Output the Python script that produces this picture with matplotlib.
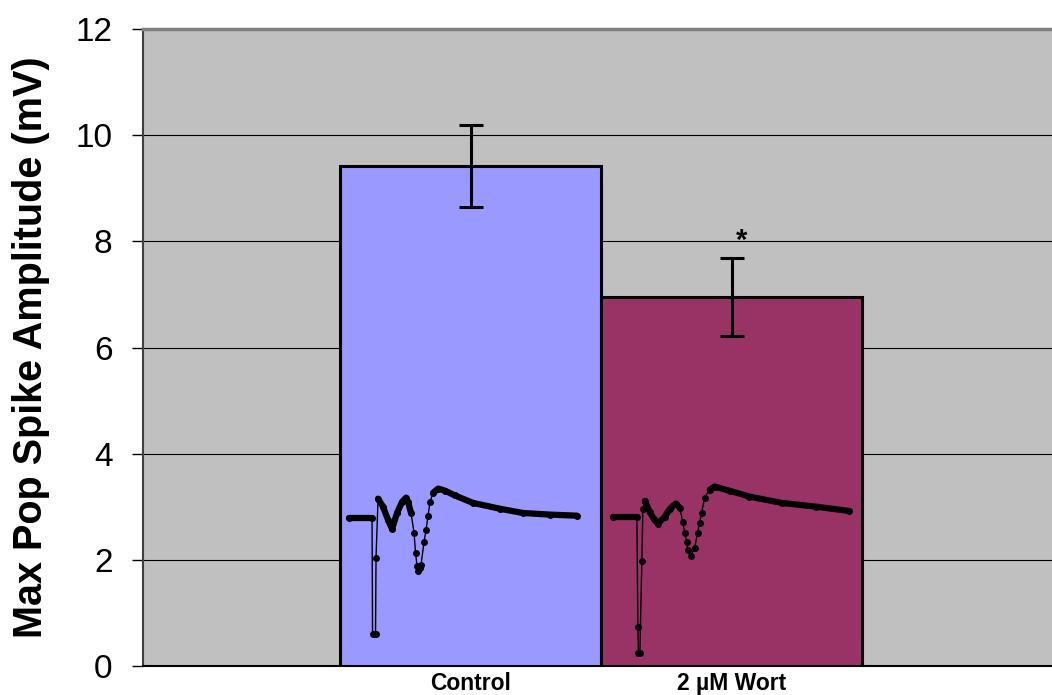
import matplotlib
matplotlib.use('Agg')
import matplotlib.pyplot as plt
import numpy as np

plt.rcParams['font.family'] = ['Liberation Sans', 'DejaVu Sans']

# bar data
groups = ['Control', '2 µM Wort']
means = [9.42, 6.95]
errors = [0.78, 0.73]
colors = ['#9999FF', '#993366']

# example field potential traces (sample index, relative mV)
ctrl_t = [0, 23, 23.5, 26.5, 27, 29, 34, 39, 43, 48, 53, 57, 59, 62, 65, 66.5,
          68, 69, 70.5, 72, 75, 77, 79, 81, 84, 89, 96, 106, 124, 151, 174, 201, 228]
ctrl_v = [0, 0, -2.19, -2.19, -0.75, 0.36, 0.21, -0.04, -0.21, 0.09, 0.30, 0.38,
          0.30, 0.09, -0.28, -0.66, -0.91, -1.0, -0.94, -0.89, -0.45, -0.23, 0.04,
          0.30, 0.47, 0.55, 0.51, 0.42, 0.28, 0.17, 0.09, 0.06, 0.04]
wort_t = [0, 24, 25, 25.5, 27, 29, 30, 32, 37, 41, 45, 52, 57, 63, 67, 70, 72, 74,
          75, 78, 82, 85, 87, 89, 92, 97, 102, 117, 137, 170, 204, 237]
wort_v = [0, 0, -2.08, -2.57, -2.57, -0.83, 0.15, 0.30, 0.09, -0.04, -0.13, 0.0,
          0.15, 0.25, 0.17, -0.09, -0.30, -0.47, -0.62, -0.74, -0.58, -0.30, -0.11,
          0.08, 0.36, 0.51, 0.57, 0.49, 0.38, 0.26, 0.19, 0.11]

fig = plt.figure(figsize=(10.52, 6.95), dpi=100)
ax = fig.add_axes([143 / 1052, 29 / 695, 1 - 143 / 1052, 637 / 695])
ax.set_facecolor('#C0C0C0')

x = np.arange(len(groups))
ax.bar(x, means, width=1.0, color=colors, edgecolor='black', linewidth=2.2, zorder=3)
ax.errorbar(x, means, yerr=errors, fmt='none', ecolor='black', elinewidth=2.2,
            capsize=8.3, capthick=2.2, zorder=4)
ax.text(x[1] + 0.04, means[1] + errors[1] + 0.33, '*', ha='center', va='center',
        fontsize=21, fontweight='bold', zorder=5)

ax.set_xlim(-1.255, 2.228)
ax.set_ylim(0, 12)
ax.set_yticks(range(0, 13, 2))
ax.tick_params(axis='y', labelsize=24, length=8, width=1, direction='out', pad=14)
ax.set_xticks(x)
ax.set_xticklabels(groups, fontsize=16.5, fontweight='bold')
ax.tick_params(axis='x', length=0, pad=4)
ax.set_ylabel('Max Pop Spike Amplitude (mV)', fontsize=28.5, fontweight='bold',
              labelpad=18)

ax.yaxis.grid(True, color='black', linewidth=0.8, zorder=0)
ax.set_axisbelow(True)
ax.spines['top'].set_color('#808080')
ax.spines['top'].set_linewidth(2.5)
ax.spines['right'].set_visible(False)
ax.spines['left'].set_color('#404040')
ax.spines['left'].set_linewidth(1.5)
ax.spines['bottom'].set_linewidth(1.5)


def draw_trace(xc, t, v, xlim, ylim, thick):
    ins = ax.inset_axes([xc - 0.5, 0, 1.0, 4.0], transform=ax.transData, zorder=6)
    ins.set_xlim(*xlim)
    ins.set_ylim(*ylim)
    ins.axis('off')
    ins.patch.set_alpha(0)
    t = np.asarray(t)
    v = np.asarray(v)
    ins.plot(t, v, color='black', lw=1.0)
    ins.plot(t, v, 'o', color='black', ms=4)
    for lo, hi in thick:
        m = (t >= lo) & (t <= hi)
        ins.plot(t[m], v[m], color='black', lw=4.5, solid_capstyle='round',
                 solid_joinstyle='round')


draw_trace(x[0], ctrl_t, ctrl_v, (-9, 252), (-2.792, 1.208),
           [(0, 23), (29, 62), (84, 228)])
draw_trace(x[1], wort_t, wort_v, (-12, 250), (-2.811, 1.189),
           [(0, 24), (32, 67), (97, 237)])

fig.savefig('out.png', dpi=100)
